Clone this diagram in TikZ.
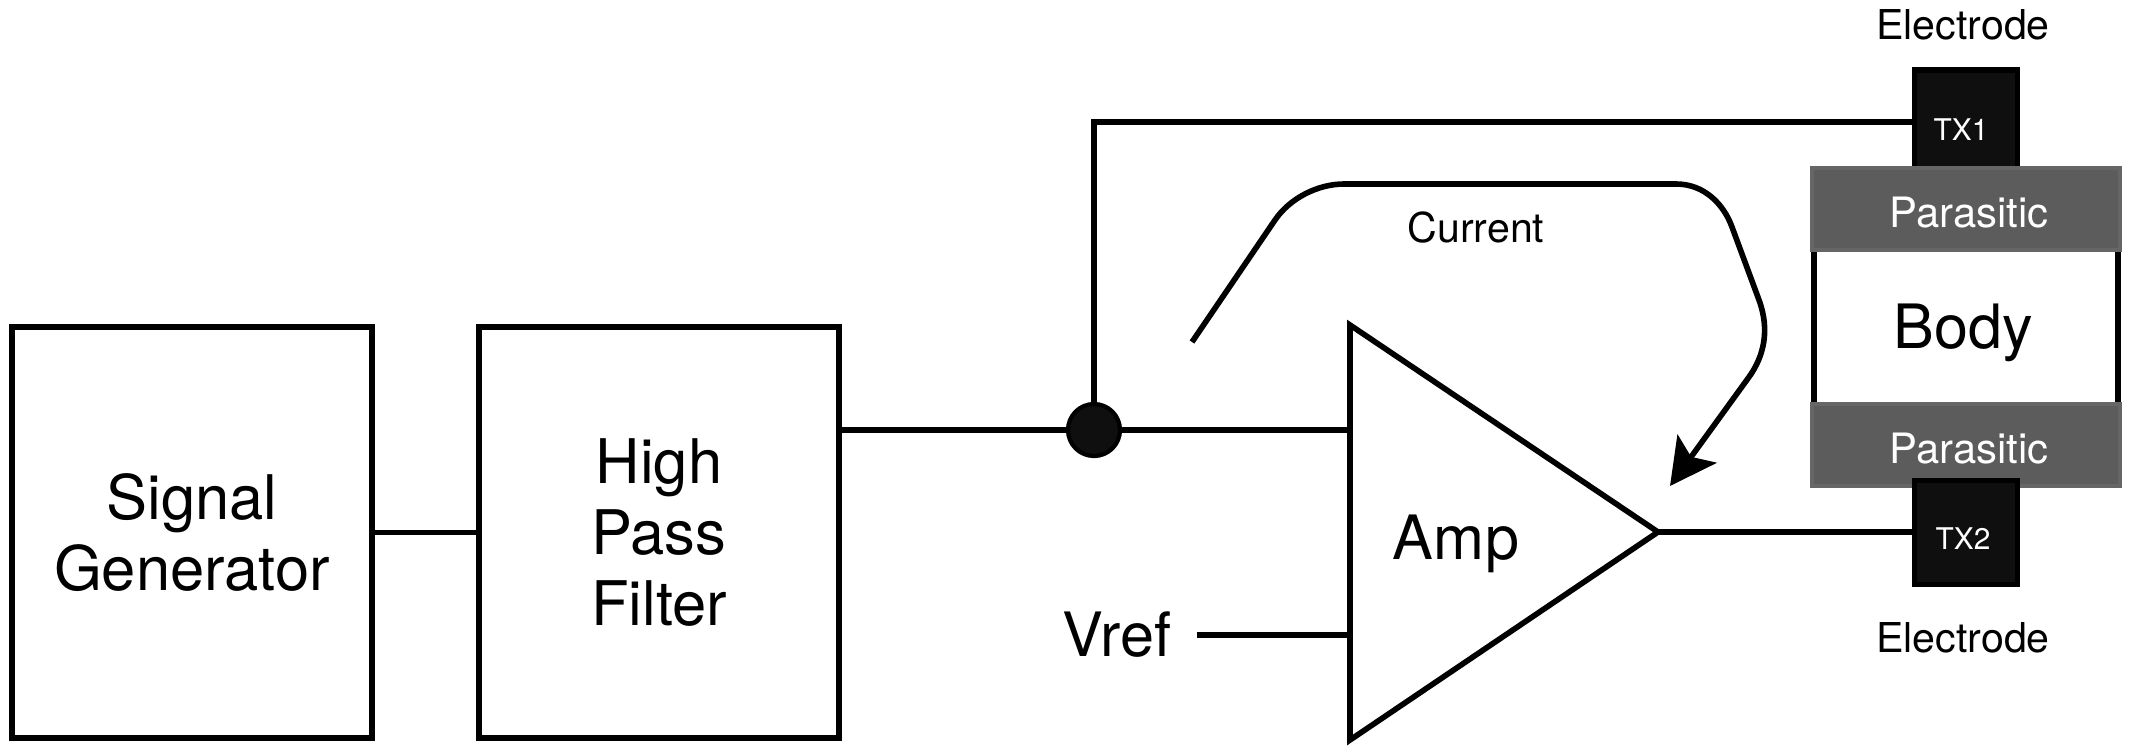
\documentclass[tikz,border=0pt]{standalone}
\usepackage{fontspec}
\setmainfont{TeX Gyre Heros}
\usetikzlibrary{arrows.meta}
\tikzset{
  wire/.style={black, line width=1.6pt},
  blockbox/.style={draw=black, line width=1.6pt, fill=white, align=center, outer sep=0pt,
                   inner sep=0pt, minimum width=3.6cm, minimum height=4.11cm,
                   font=\fontsize{17.5}{20.2}\selectfont},
  electrodebox/.style={draw=black, line width=1.6pt, fill=black!94, outer sep=0pt,
                       inner sep=0pt, minimum width=1.03cm, minimum height=1.04cm},
  parasiticbox/.style={draw=black!60, line width=1.4pt, fill=black!64, outer sep=0pt,
                       inner sep=0pt, minimum width=3.08cm, minimum height=0.82cm},
  bigtext/.style={inner sep=0pt, font=\fontsize{17.4}{20}\selectfont},
  midtext/.style={inner sep=0pt, font=\fontsize{11.7}{14}\selectfont},
  whitetext/.style={inner sep=0pt, text=white, font=\fontsize{11.9}{14}\selectfont},
  txtext/.style={inner sep=0pt, text=white, font=\fontsize{8.5}{10}\selectfont}
}
\begin{document}
\begin{tikzpicture}
  \useasboundingbox (0,0) rectangle (21.35,7.55);
  \node[blockbox] (siggen) at (1.92,2.225) {Signal\\Generator};
  \node[blockbox] (hpf) at (6.59,2.225) {High\\Pass\\Filter};
  \node[circle, draw=black, line width=1.2pt, fill=black!94, minimum size=0.52cm, inner sep=0pt, outer sep=0pt] (junction) at (10.94,3.25) {};

  \coordinate (amptop) at (13.5,4.30);
  \coordinate (ampbottom) at (13.5,0.15);
  \coordinate (amptip) at (16.58,2.23);
  \draw[wire, line join=miter, fill=white] (amptop) -- (amptip) -- (ampbottom) -- cycle;
  \node[bigtext] (amp) at (14.56,2.11) {Amp};
  \node[bigtext] (vref) at (11.17,1.20) {Vref};
  \coordinate (vrefstart) at (11.97,1.20);

  \node[electrodebox] (tx1) at (19.66,6.33) {};
  \node[draw=black, line width=1.6pt, inner sep=0pt, outer sep=0pt, minimum width=3.04cm, minimum height=1.6cm] (body) at (19.66,4.28) {};
  \node[parasiticbox] (parasitic1) at (19.66,5.46) {};
  \node[parasiticbox] (parasitic2) at (19.66,3.10) {};
  \node[electrodebox] (tx2) at (19.66,2.225) {};
  \node[txtext] (tx1label) at (19.61,6.25) {TX1};
  \node[txtext] (tx2label) at (19.63,2.16) {TX2};
  \node[whitetext] (parasitic1label) at (19.69,5.42) {Parasitic};
  \node[whitetext] (parasitic2label) at (19.69,3.06) {Parasitic};
  \node[bigtext] (bodylabel) at (19.63,4.22) {Body};
  \node[midtext] (electrode1) at (19.63,7.30) {Electrode};
  \node[midtext] (electrode2) at (19.63,1.17) {Electrode};
  \node[midtext] (current) at (14.76,5.27) {Current};

  \draw[wire] (siggen) -- (hpf);
  \draw[wire] (junction -| hpf.east) -- (junction);
  \draw[wire] (junction) -- (junction -| amptop);
  \draw[wire] (junction) |- (tx1.west);
  \draw[wire] (vrefstart) -- (vrefstart -| amptop);
  \draw[wire] (amptip) -- (amptip -| tx2.west);

  \coordinate (currentstart) at (11.92,4.13);
  \coordinate (currentend) at (16.70,2.69);
  \draw[wire, -{Stealth[length=4.6mm, width=4.8mm, inset=1mm]}] (currentstart) -- (12.75,5.35)
    .. controls (12.90,5.57) and (13.18,5.71) .. (13.44,5.71) -- (16.76,5.71)
    .. controls (17.05,5.71) and (17.24,5.50) .. (17.32,5.28) -- (17.59,4.55)
    .. controls (17.70,4.25) and (17.64,3.99) .. (17.49,3.78) -- (currentend);
\end{tikzpicture}
\end{document}
